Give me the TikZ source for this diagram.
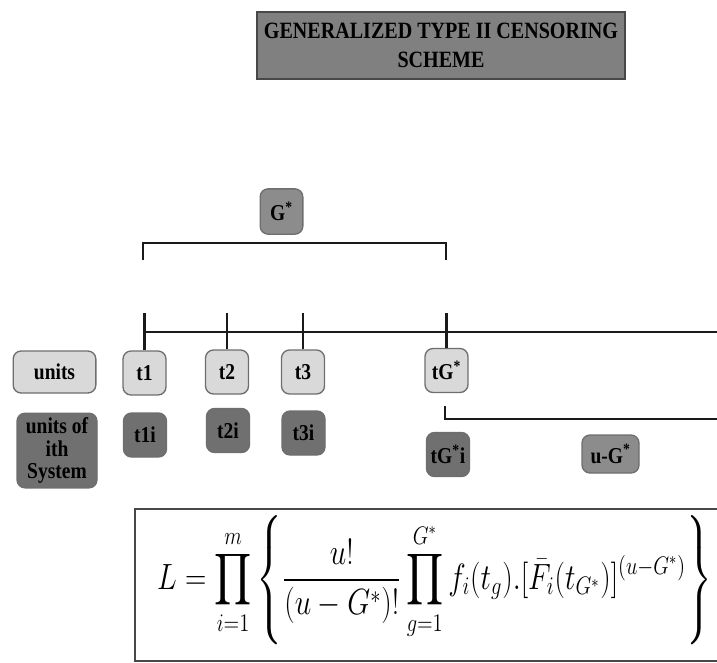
\documentclass[tikz,border=0pt]{standalone}
\usepackage{fontspec}
\usepackage{amsmath,amssymb}
\setmainfont{Liberation Serif}
\newfontfamily\boxfont{Liberation Serif}[FakeStretch=0.86]
\usetikzlibrary{positioning}
\definecolor{ink}{HTML}{1A1A1A}
\definecolor{edge}{HTML}{6E6E6E}
\definecolor{light}{HTML}{D9D9D9}
\definecolor{mid}{HTML}{8C8C8C}
\definecolor{dark}{HTML}{707070}
\definecolor{head}{HTML}{808080}

\begin{document}
\begin{tikzpicture}[
  x=0.75pt, y=-0.75pt,
  font=\boxfont\fontsize{17}{17}\selectfont\bfseries,
  tag/.style    = {draw=edge, line width=1pt, rounded corners=6pt, align=center,
                   inner sep=0.5pt, minimum width=32.25pt, minimum height=33pt},
  unitbox/.style = {tag, fill=light},
  sysbox/.style  = {tag, fill=dark},
  cntbox/.style  = {tag, fill=mid},
  headbox/.style = {draw=ink!80, line width=1.2pt, fill=head, align=center,
                    minimum width=276pt, minimum height=50pt},
  axis/.style   = {draw=ink, line width=2pt},
  timeline/.style = {draw=ink, line width=1.4pt},
]
\useasboundingbox (0,0) rectangle (717,662);

% ---------- title ----------
\node[headbox, font=\boxfont\fontsize{17.5}{22}\selectfont\bfseries] (title) at (441,45.5)
  {GENERALIZED TYPE II CENSORING\\ SCHEME};

% ---------- G* bracket ----------
\node[cntbox, minimum width=32pt, minimum height=34pt] (gstar) at (281.5,211.5) {G\textsuperscript{*}};
\coordinate (bl) at (143,260);
\coordinate (br) at (446,260);
\draw[axis] (bl) -- ++(0,-17) -| (br);

% ---------- units row ----------
\node[unitbox, minimum width=62pt, minimum height=31.5pt] (units) at (54.5,372) {units};
\node[unitbox] (t1) at (144.5,373) {t1};
\node[unitbox] (t2) at (227,372) {t2};
\node[unitbox] (t3) at (303,372) {t3};
\node[unitbox] (tg) at (446.5,370.5) {tG\textsuperscript{*}};

% ---------- time axis ----------
\coordinate (a0) at (143,332);
\coordinate (a1) at (717,332);
\coordinate (ticktop) at (0,313);
\draw[timeline] (a0) -- (a1);
\foreach \t in {t1,t2,t3,tg}
  \draw[axis] (\t.north) -- (\t.north |- ticktop);

% ---------- units of ith system ----------
\node[sysbox, minimum width=60pt, minimum height=56pt] (sys) at (57,450.5) {units of\\ ith\\ System};
\node[sysbox] (t1i) at (145,435) {t1i};
\node[sysbox] (t2i) at (228,430.5) {t2i};
\node[sysbox] (t3i) at (303.5,433) {t3i};
\node[sysbox] (tgi) at (448,454.5) {tG\textsuperscript{*}i};
\node[cntbox, minimum width=42.75pt, minimum height=28.5pt] (ug) at (610.5,454) {u-G\textsuperscript{*}};

% ---------- u-G* bracket ----------
\coordinate (c0) at (445,406);
\coordinate (c1) at (717,419);
\draw[axis] (c0) |- (c1);

% ---------- likelihood ----------
\node[draw=ink!80, line width=1.2pt, minimum width=442.5pt, minimum height=114pt] (likbox) at (430,585) {};
\node (lik) at (434.5,580)
  {\resizebox*{416pt}{97pt}{$\displaystyle L=\prod_{i=1}^{m}\left\{\frac{u!}{(u-G^{*})!}\prod_{g=1}^{G^{*}} f_i(t_g).[\bar{F}_i(t_{G^{*}})]^{(u-G^{*})}\right\}$}};

\end{tikzpicture}
\end{document}
